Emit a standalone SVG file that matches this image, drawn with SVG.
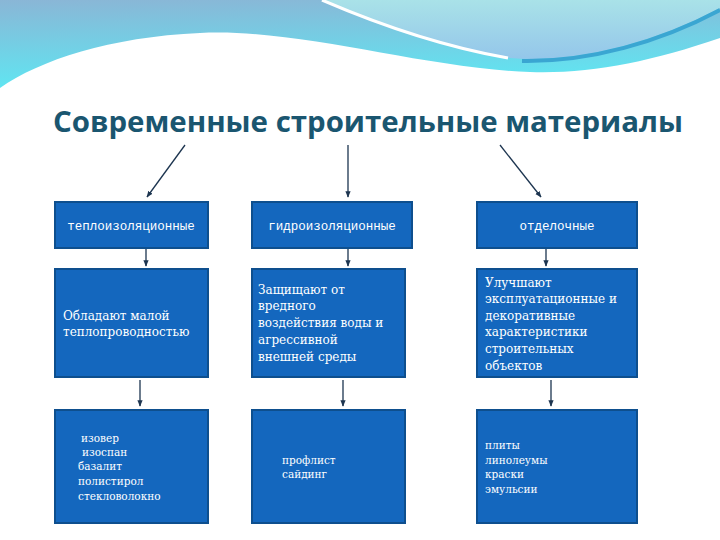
<svg xmlns="http://www.w3.org/2000/svg" width="720" height="540" viewBox="0 0 720 540">
<defs>
<linearGradient id="bg1" x1="0" y1="0" x2="0.15" y2="1">
<stop offset="0" stop-color="#8ab6d6"/>
<stop offset="1" stop-color="#5fe6f2"/>
</linearGradient>
<linearGradient id="bg2" x1="0" y1="0" x2="0" y2="1">
<stop offset="0" stop-color="#a9e2e8"/>
<stop offset="1" stop-color="#94c6ea"/>
</linearGradient>
<marker id="ah" viewBox="0 0 10 10" refX="9" refY="5" markerWidth="5" markerHeight="5" orient="auto">
<path d="M0,1 L10,5 L0,9 Z" fill="#1d3550"/>
</marker>
<style>
.box{fill:#1467be;stroke:#0e4f8e;stroke-width:2}
.t1{font-family:"Liberation Mono","DejaVu Sans Mono",monospace;font-size:12.5px;fill:#ffffff;text-anchor:middle}
.t2{font-family:"DejaVu Serif","Liberation Serif",serif;font-size:12px;fill:#ffffff}
.t3{font-family:"DejaVu Serif","Liberation Serif",serif;font-size:10.5px;fill:#ffffff}
.con{stroke:#1d3550;stroke-width:1.3;fill:none;marker-end:url(#ah)}
</style>
</defs>
<rect width="720" height="540" fill="#ffffff"/>
<path d="M0,0 H720 V38 C650,62 590,74 530,72 C420,68 300,28 200,33 C110,37 40,60 0,88 Z" fill="url(#bg1)"/>
<path d="M322,0 C380,25 440,46 510,58 C580,64 660,40 720,8 V0 Z" fill="url(#bg2)"/>
<path d="M322,0 C380,25 440,46 508,58" stroke="#ffffff" stroke-width="3" fill="none"/>
<path d="M522,61 C590,62 660,42 720,10" stroke="#3aa6d2" stroke-width="4" fill="none"/>
<text x="368" y="132" text-anchor="middle" font-family="Open Sans, Noto Sans, sans-serif" font-weight="bold" font-size="28" fill="#1a5670" textLength="630" lengthAdjust="spacingAndGlyphs">Современные строительные материалы</text>
<g id="connectors">
<line class="con" x1="185" y1="145" x2="147" y2="197"/>
<line class="con" x1="348" y1="145" x2="348" y2="197"/>
<line class="con" x1="500" y1="145" x2="541" y2="197"/>
<line class="con" x1="146" y1="249" x2="146" y2="266"/>
<line class="con" x1="348" y1="249" x2="348" y2="266"/>
<line class="con" x1="546" y1="249" x2="546" y2="266"/>
<line class="con" x1="140" y1="380" x2="140" y2="406"/>
<line class="con" x1="343" y1="380" x2="343" y2="406"/>
<line class="con" x1="551" y1="380" x2="551" y2="406"/>
</g>
<g id="n1"><rect class="box" x="55" y="202" width="153" height="46"/><text class="t1" x="131" y="230">теплоизоляционные</text></g>
<g id="n2"><rect class="box" x="252" y="202" width="160" height="46"/><text class="t1" x="332" y="230">гидроизоляционные</text></g>
<g id="n3"><rect class="box" x="477" y="202" width="160" height="46"/><text class="t1" x="557" y="230">отделочные</text></g>
<g id="n4"><rect class="box" x="55" y="269" width="153" height="108"/>
<text class="t2" x="63" y="320">Обладают малой</text>
<text class="t2" x="63" y="336">теплопроводностью</text></g>
<g id="n5"><rect class="box" x="252" y="269" width="153" height="108"/>
<text class="t2" x="258" y="294">Защищают от</text>
<text class="t2" x="258" y="310">вредного</text>
<text class="t2" x="258" y="327">воздействия воды и</text>
<text class="t2" x="258" y="344">агрессивной</text>
<text class="t2" x="258" y="361">внешней среды</text></g>
<g id="n6"><rect class="box" x="477" y="269" width="160" height="108"/>
<text class="t2" x="485" y="287">Улучшают</text>
<text class="t2" x="485" y="303">эксплуатационные и</text>
<text class="t2" x="485" y="320">декоративные</text>
<text class="t2" x="485" y="336">характеристики</text>
<text class="t2" x="485" y="353">строительных</text>
<text class="t2" x="485" y="370">объектов</text></g>
<g id="n7"><rect class="box" x="55" y="410" width="153" height="113"/>
<text class="t3" x="81" y="442">изовер</text>
<text class="t3" x="82" y="456">изоспан</text>
<text class="t3" x="78" y="470">базалит</text>
<text class="t3" x="78" y="485">полистирол</text>
<text class="t3" x="78" y="500">стекловолокно</text></g>
<g id="n8"><rect class="box" x="252" y="410" width="153" height="113"/>
<text class="t3" x="282" y="464">профлист</text>
<text class="t3" x="282" y="478">сайдинг</text></g>
<g id="n9"><rect class="box" x="477" y="410" width="160" height="113"/>
<text class="t3" x="485" y="449">плиты</text>
<text class="t3" x="485" y="464">линолеумы</text>
<text class="t3" x="485" y="478">краски</text>
<text class="t3" x="485" y="493">эмульсии</text></g>
</svg>
